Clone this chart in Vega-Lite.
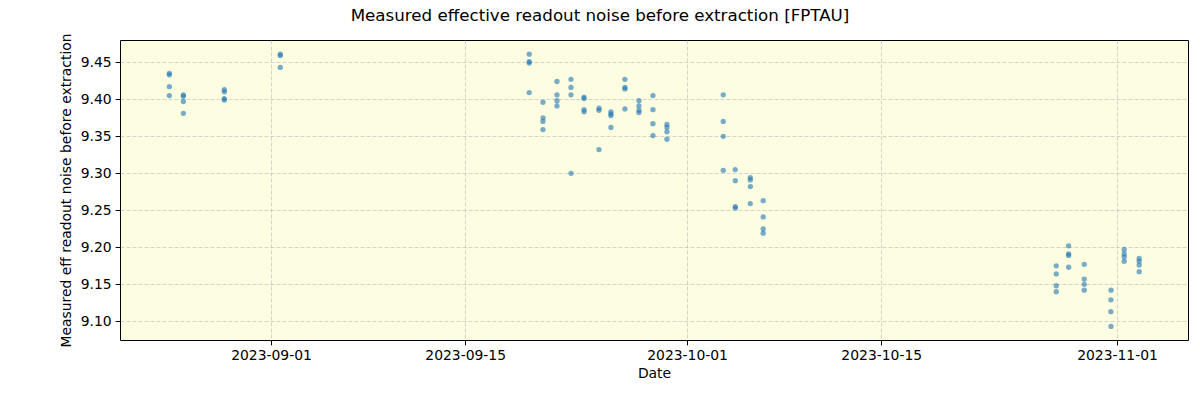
{
  "$schema": "https://vega.github.io/schema/vega-lite/v6.json",
  "width": 1068,
  "height": 300,
  "autosize": {"type": "none"},
  "padding": {"left": 120, "top": 40, "right": 12, "bottom": 60},
  "background": "white",
  "title": {
    "text": "Measured effective readout noise before extraction [FPTAU]",
    "anchor": "middle",
    "dx": -54,
    "offset": 0,
    "dy": 5,
    "baseline": "alphabetic",
    "font": "DejaVu Sans",
    "fontSize": 16.7,
    "fontWeight": "normal",
    "color": "black"
  },
  "config": {
    "view": {"fill": "#fdfde1", "stroke": "black", "strokeWidth": 1},
    "axis": {
      "labelFont": "DejaVu Sans",
      "titleFont": "DejaVu Sans",
      "labelFontSize": 13.9,
      "titleFontSize": 13.9,
      "titleFontWeight": "normal",
      "labelColor": "black",
      "titleColor": "black",
      "tickColor": "black",
      "tickSize": 4.9,
      "labelPadding": 3,
      "domain": false,
      "gridColor": "#b0b0b0",
      "gridOpacity": 0.65,
      "gridDash": [4, 2],
      "gridWidth": 0.8
    }
  },
  "data": {
    "values": [
      {"date": "2023-08-24T16:05:00", "noise": 9.435},
      {"date": "2023-08-24T16:05:00", "noise": 9.433},
      {"date": "2023-08-24T16:05:00", "noise": 9.417},
      {"date": "2023-08-24T16:05:00", "noise": 9.405},
      {"date": "2023-08-25T16:20:00", "noise": 9.406},
      {"date": "2023-08-25T16:20:00", "noise": 9.404},
      {"date": "2023-08-25T16:20:00", "noise": 9.397},
      {"date": "2023-08-25T16:20:00", "noise": 9.381},
      {"date": "2023-08-28T15:10:00", "noise": 9.413},
      {"date": "2023-08-28T15:20:00", "noise": 9.410},
      {"date": "2023-08-28T15:10:00", "noise": 9.401},
      {"date": "2023-08-28T15:10:00", "noise": 9.399},
      {"date": "2023-09-01T16:05:00", "noise": 9.461},
      {"date": "2023-09-01T16:05:00", "noise": 9.459},
      {"date": "2023-09-01T16:05:00", "noise": 9.443},
      {"date": "2023-09-19T14:53:00", "noise": 9.461},
      {"date": "2023-09-19T14:53:00", "noise": 9.451},
      {"date": "2023-09-19T14:53:00", "noise": 9.449},
      {"date": "2023-09-19T14:53:00", "noise": 9.409},
      {"date": "2023-09-20T14:38:00", "noise": 9.396},
      {"date": "2023-09-20T14:50:00", "noise": 9.375},
      {"date": "2023-09-20T14:38:00", "noise": 9.370},
      {"date": "2023-09-20T14:38:00", "noise": 9.359},
      {"date": "2023-09-21T14:53:00", "noise": 9.424},
      {"date": "2023-09-21T14:53:00", "noise": 9.406},
      {"date": "2023-09-21T14:53:00", "noise": 9.398},
      {"date": "2023-09-21T14:53:00", "noise": 9.391},
      {"date": "2023-09-22T15:07:00", "noise": 9.427},
      {"date": "2023-09-22T15:07:00", "noise": 9.416},
      {"date": "2023-09-22T15:07:00", "noise": 9.406},
      {"date": "2023-09-22T15:15:00", "noise": 9.300},
      {"date": "2023-09-23T13:41:00", "noise": 9.403},
      {"date": "2023-09-23T13:41:00", "noise": 9.401},
      {"date": "2023-09-23T13:45:00", "noise": 9.386},
      {"date": "2023-09-23T13:45:00", "noise": 9.383},
      {"date": "2023-09-24T15:36:00", "noise": 9.388},
      {"date": "2023-09-24T15:36:00", "noise": 9.385},
      {"date": "2023-09-24T15:36:00", "noise": 9.332},
      {"date": "2023-09-25T12:14:00", "noise": 9.383},
      {"date": "2023-09-25T12:14:00", "noise": 9.380},
      {"date": "2023-09-25T12:14:00", "noise": 9.378},
      {"date": "2023-09-25T12:14:00", "noise": 9.362},
      {"date": "2023-09-26T12:29:00", "noise": 9.427},
      {"date": "2023-09-26T12:29:00", "noise": 9.416},
      {"date": "2023-09-26T12:29:00", "noise": 9.414},
      {"date": "2023-09-26T12:29:00", "noise": 9.387},
      {"date": "2023-09-27T12:43:00", "noise": 9.398},
      {"date": "2023-09-27T12:43:00", "noise": 9.391},
      {"date": "2023-09-27T12:55:00", "noise": 9.385},
      {"date": "2023-09-27T12:43:00", "noise": 9.382},
      {"date": "2023-09-28T12:58:00", "noise": 9.405},
      {"date": "2023-09-28T12:58:00", "noise": 9.386},
      {"date": "2023-09-28T12:58:00", "noise": 9.367},
      {"date": "2023-09-28T12:58:00", "noise": 9.351},
      {"date": "2023-09-29T13:12:00", "noise": 9.366},
      {"date": "2023-09-29T13:12:00", "noise": 9.362},
      {"date": "2023-09-29T13:12:00", "noise": 9.356},
      {"date": "2023-09-29T13:12:00", "noise": 9.346},
      {"date": "2023-10-03T14:38:00", "noise": 9.406},
      {"date": "2023-10-03T14:38:00", "noise": 9.370},
      {"date": "2023-10-03T14:38:00", "noise": 9.350},
      {"date": "2023-10-03T14:38:00", "noise": 9.304},
      {"date": "2023-10-04T11:20:00", "noise": 9.305},
      {"date": "2023-10-04T11:31:00", "noise": 9.290},
      {"date": "2023-10-04T11:31:00", "noise": 9.255},
      {"date": "2023-10-04T11:31:00", "noise": 9.253},
      {"date": "2023-10-05T13:26:00", "noise": 9.294},
      {"date": "2023-10-05T13:26:00", "noise": 9.291},
      {"date": "2023-10-05T13:35:00", "noise": 9.282},
      {"date": "2023-10-05T13:26:00", "noise": 9.259},
      {"date": "2023-10-06T11:46:00", "noise": 9.263},
      {"date": "2023-10-06T11:46:00", "noise": 9.241},
      {"date": "2023-10-06T11:46:00", "noise": 9.225},
      {"date": "2023-10-06T11:46:00", "noise": 9.219},
      {"date": "2023-10-27T14:53:00", "noise": 9.175},
      {"date": "2023-10-27T14:53:00", "noise": 9.164},
      {"date": "2023-10-27T14:53:00", "noise": 9.148},
      {"date": "2023-10-27T14:53:00", "noise": 9.140},
      {"date": "2023-10-28T12:14:00", "noise": 9.202},
      {"date": "2023-10-28T12:14:00", "noise": 9.191},
      {"date": "2023-10-28T12:20:00", "noise": 9.189},
      {"date": "2023-10-28T12:20:00", "noise": 9.173},
      {"date": "2023-10-29T15:22:00", "noise": 9.177},
      {"date": "2023-10-29T15:22:00", "noise": 9.157},
      {"date": "2023-10-29T15:22:00", "noise": 9.150},
      {"date": "2023-10-29T15:22:00", "noise": 9.142},
      {"date": "2023-10-31T13:40:00", "noise": 9.142},
      {"date": "2023-10-31T13:26:00", "noise": 9.129},
      {"date": "2023-10-31T13:20:00", "noise": 9.113},
      {"date": "2023-10-31T13:40:00", "noise": 9.093},
      {"date": "2023-11-01T12:29:00", "noise": 9.197},
      {"date": "2023-11-01T12:29:00", "noise": 9.191},
      {"date": "2023-11-01T12:29:00", "noise": 9.187},
      {"date": "2023-11-01T12:29:00", "noise": 9.181},
      {"date": "2023-11-02T14:24:00", "noise": 9.185},
      {"date": "2023-11-02T14:24:00", "noise": 9.181},
      {"date": "2023-11-02T14:24:00", "noise": 9.176},
      {"date": "2023-11-02T14:24:00", "noise": 9.167}
    ]
  },
  "mark": {"type": "circle", "size": 28, "color": "#1f77b4", "opacity": 0.6},
  "encoding": {
    "x": {
      "field": "date",
      "type": "temporal",
      "title": "Date",
      "scale": {
        "domain": [
          {"year": 2023, "month": 8, "date": 21, "hours": 2, "minutes": 41},
          {"year": 2023, "month": 11, "date": 6, "hours": 2, "minutes": 53}
        ]
      },
      "axis": {
        "values": [
          {"year": 2023, "month": 9, "date": 1},
          {"year": 2023, "month": 9, "date": 15},
          {"year": 2023, "month": 10, "date": 1},
          {"year": 2023, "month": 10, "date": 15},
          {"year": 2023, "month": 11, "date": 1}
        ],
        "format": "%Y-%m-%d",
        "labelPadding": 4,
        "titlePadding": 4,
        "labelFlush": false
      }
    },
    "y": {
      "field": "noise",
      "type": "quantitative",
      "title": "Measured eff readout noise before extraction",
      "scale": {"domain": [9.0747, 9.4801], "nice": false, "zero": false},
      "axis": {
        "values": [9.1, 9.15, 9.2, 9.25, 9.3, 9.35, 9.4, 9.45],
        "format": ".2f",
        "labelPadding": 4,
        "titleX": -54,
        "titleBaseline": "middle",
        "labelFlush": false
      }
    }
  }
}
